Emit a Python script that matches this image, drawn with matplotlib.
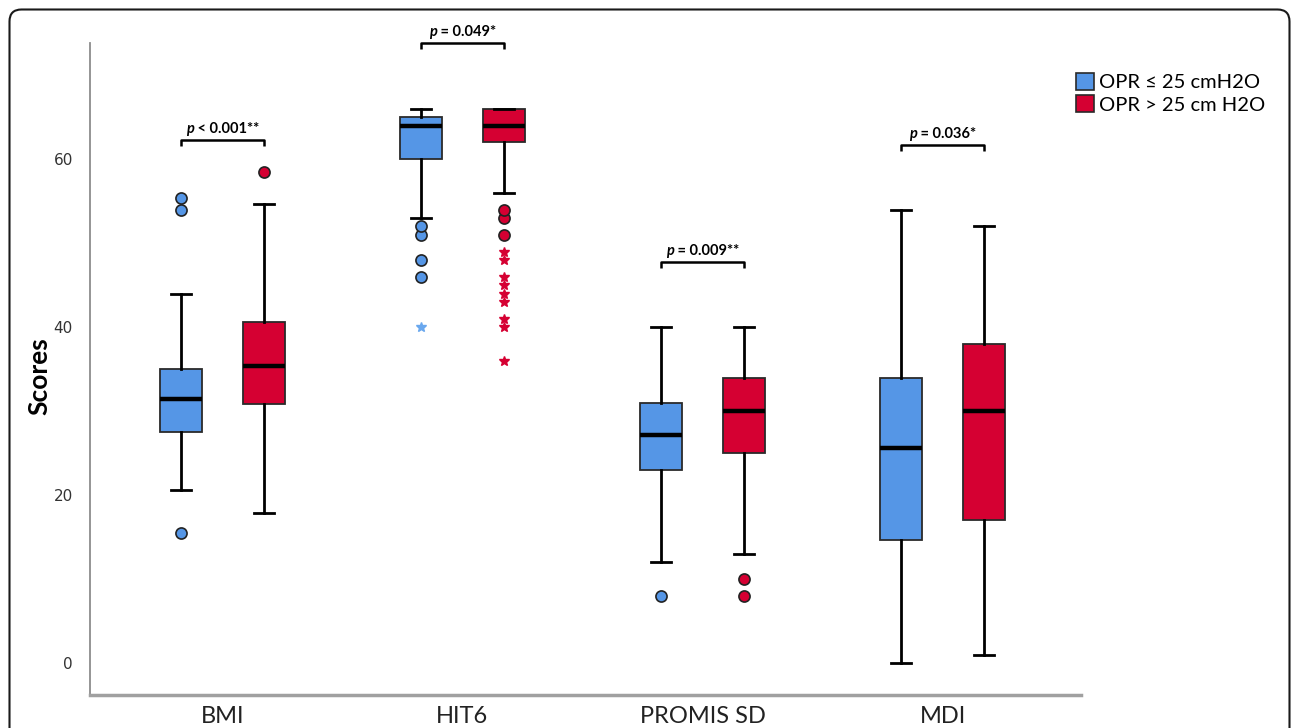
import matplotlib
matplotlib.use('Agg')
import matplotlib.pyplot as plt
from matplotlib.patches import Patch, FancyBboxPatch
from matplotlib.offsetbox import TextArea, HPacker, AnnotationBbox

# summary statistics
categories = ['BMI', 'HIT6', 'PROMIS SD', 'MDI']

low_med    = [31.4, 64.0, 27.1, 25.6]
low_q1     = [27.5, 60.0, 23.0, 14.6]
low_q3     = [35.0, 65.0, 31.0, 34.0]
low_whislo = [20.6, 53.0, 12.0, 0.0]
low_whishi = [44.0, 66.0, 40.0, 54.0]
low_out    = [[15.5, 53.9, 55.4], [46, 48, 51, 52], [8], []]
low_ext    = [[], [40], [], []]

high_med    = [35.4, 64.0, 30.0, 30.0]
high_q1     = [30.8, 62.0, 25.0, 17.0]
high_q3     = [40.6, 66.0, 34.0, 38.0]
high_whislo = [17.9, 56.0, 13.0, 1.0]
high_whishi = [54.7, 66.0, 40.0, 52.0]
high_out    = [[58.5], [51, 53, 54], [8, 10], []]
high_ext    = [[], [36, 40, 41, 43, 44, 45, 46, 48, 49], [], []]

p_text    = [' < 0.001**', ' = 0.049*', ' = 0.009**', ' = 0.036*']
bracket_y = [62.3, 73.8, 47.7, 61.7]

legend_labels = ['OPR \u2264 25 cmH2O', 'OPR > 25 cm H2O']

blue = '#5596e6'
red = '#d50032'
off = 0.173
bw = 0.174
lato = ['Lato', 'DejaVu Sans']

fig = plt.figure(figsize=(12.92, 7.28), dpi=100)
ax = fig.add_axes([89.5/1292, 33/728, (1081-89.5)/1292, (695-43.3)/728])


def make_stats(med, q1, q3, lo, hi, out):
    return [dict(med=med[i], q1=q1[i], q3=q3[i], whislo=lo[i], whishi=hi[i],
                 fliers=out[i]) for i in range(len(med))]


pos = list(range(len(categories)))
for stats, ext, color, sign in [
        (make_stats(low_med, low_q1, low_q3, low_whislo, low_whishi, low_out), low_ext, blue, -1),
        (make_stats(high_med, high_q1, high_q3, high_whislo, high_whishi, high_out), high_ext, red, 1)]:
    ax.bxp(stats, positions=[p + sign*off for p in pos], widths=bw, capwidths=0.085,
           patch_artist=True,
           boxprops=dict(facecolor=color, edgecolor='#2a2a2a', linewidth=1.3),
           medianprops=dict(color='black', linewidth=3.2),
           whiskerprops=dict(color='black', linewidth=2),
           capprops=dict(color='black', linewidth=2),
           flierprops=dict(marker='o', markerfacecolor=color, markeredgecolor='#222222',
                           markersize=8, markeredgewidth=1.2),
           manage_ticks=False)
    for i, vals in enumerate(ext):
        if vals:
            ax.plot([pos[i] + sign*off]*len(vals), vals, linestyle='none', marker='*',
                    color='#6aa8ee' if color == blue else color, markersize=7)

# significance brackets
for i, y in enumerate(bracket_y):
    x1, x2 = pos[i] - off, pos[i] + off
    ax.plot([x1, x1, x2, x2], [y - 0.7, y, y, y - 0.7], color='black', linewidth=1.8,
            clip_on=False, solid_capstyle='butt')
    ta1 = TextArea('p', textprops=dict(fontstyle='italic', fontweight='bold',
                                       family=lato, size=10.5))
    ta2 = TextArea(p_text[i], textprops=dict(fontweight='bold', family=lato, size=10.5))
    box = HPacker(children=[ta1, ta2], align='baseline', pad=0, sep=0)
    ab = AnnotationBbox(box, (pos[i], y), xybox=(0, 3), xycoords='data',
                        boxcoords='offset points', frameon=False,
                        box_alignment=(0.5, 0), annotation_clip=False)
    ax.add_artist(ab)

ax.set_xlim(-0.554, 3.577)
ax.set_ylim(-3.8, 73.8)
ax.set_yticks([0, 20, 40, 60])
ax.set_yticklabels(['0', '20', '40', '60'], family='DejaVu Sans', fontsize=11, color='#333333')
ax.set_xticks(pos)
ax.set_xticklabels(categories, family=lato, fontsize=17, color='#222222')
ax.tick_params(axis='y', length=0, pad=12)
ax.tick_params(axis='x', length=0, pad=8)
ax.set_ylabel('Scores', family=lato, fontweight='bold', fontsize=19)
ax.yaxis.set_label_coords(-38/991.5, 0.49)

for s in ['top', 'right']:
    ax.spines[s].set_visible(False)
ax.spines['left'].set_color('#8c8c8c')
ax.spines['left'].set_linewidth(1.3)
ax.spines['bottom'].set_color('#a0a0a0')
ax.spines['bottom'].set_linewidth(2.5)

handles = [Patch(facecolor=blue, edgecolor='#2a2a2a', linewidth=1.2),
           Patch(facecolor=red, edgecolor='#2a2a2a', linewidth=1.2)]
fig.legend(handles, legend_labels, loc='upper left', bbox_to_anchor=(1076/1292, 1 - 73/728),
           frameon=False, borderpad=0, borderaxespad=0, handlelength=0.9, handleheight=0.9,
           handletextpad=0.25, labelspacing=0.2,
           prop=dict(family=lato, size=14.5))

# rounded card border round the whole figure
card = FancyBboxPatch((9.5, -20), 1280, 728 - 9.5 + 20, boxstyle='round,pad=0,rounding_size=12',
                      transform=None, facecolor='none', edgecolor='#1a1a1a', linewidth=1.5)
fig.patches.append(card)

fig.savefig('out.png', dpi=100)
